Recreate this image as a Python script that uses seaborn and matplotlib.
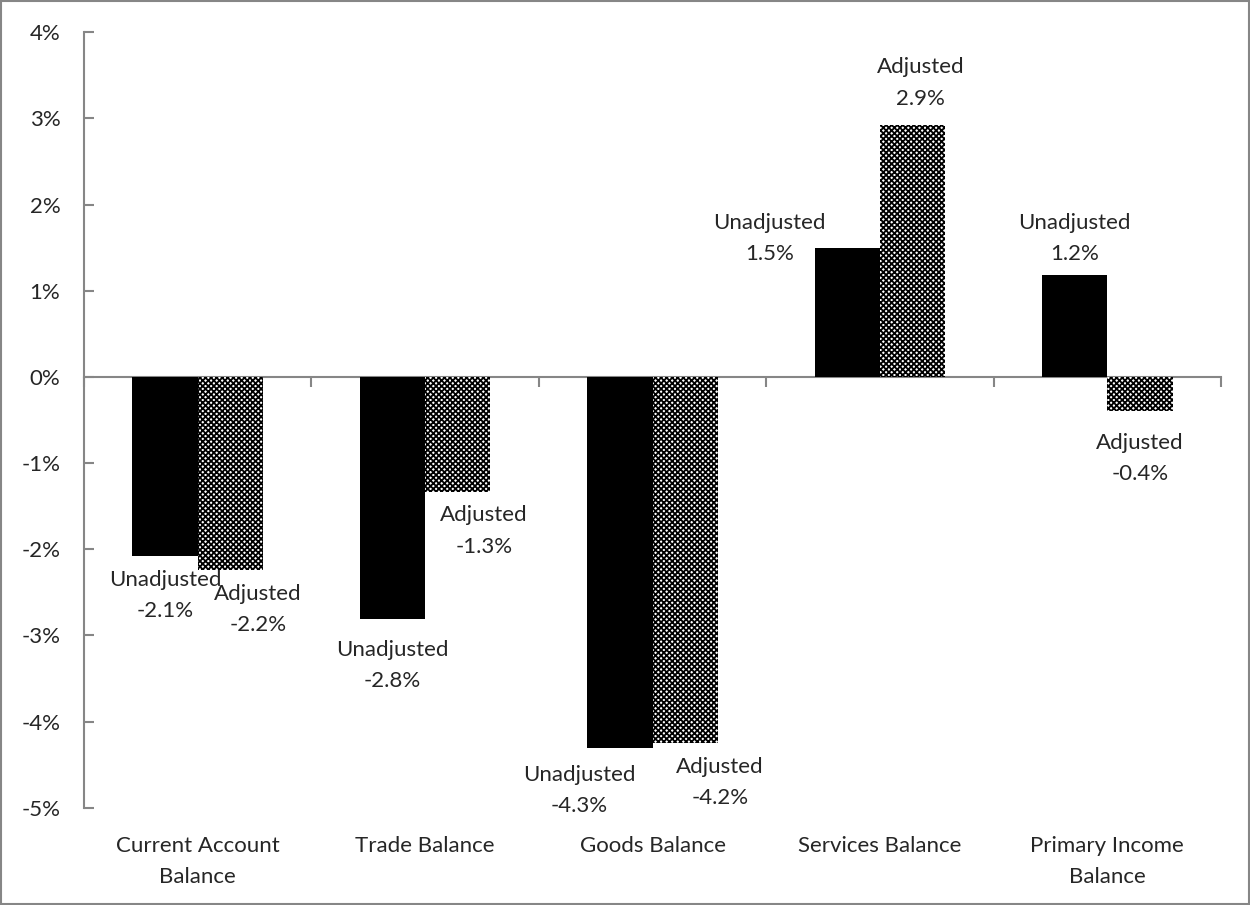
import matplotlib
matplotlib.use("Agg")
import matplotlib.pyplot as plt
import matplotlib.transforms as mtransforms
from matplotlib.patches import Rectangle
import seaborn as sns
import pandas as pd

categories = ["Current Account\nBalance", "Trade Balance", "Goods Balance",
              "Services Balance", "Primary Income\nBalance"]
unadjusted = [-2.08, -2.81, -4.31, 1.50, 1.18]
adjusted = [-2.24, -1.33, -4.25, 2.92, -0.39]
series_names = ["Unadjusted", "Adjusted"]
yticks = [4, 3, 2, 1, 0, -1, -2, -3, -4, -5]

df = pd.DataFrame({
    "Category": categories * 2,
    "Series": [series_names[0]] * len(categories) + [series_names[1]] * len(categories),
    "Value": unadjusted + adjusted,
})

sns.set_theme(style="white")
plt.rcParams['font.family'] = ['Lato', 'DejaVu Sans']
plt.rcParams['hatch.linewidth'] = 1.3
FS = 16
LS = 1.7

fig = plt.figure(figsize=(12.5, 9.05), dpi=100)
ax = fig.add_axes([0.0672, 1 - 807.7 / 905, 0.9096, (807.7 - 32.3) / 905])

sns.barplot(data=df, x="Category", y="Value", hue="Series", order=categories,
            hue_order=series_names, palette=["black", "white"], width=0.575,
            saturation=1, legend=False, ax=ax)

for p in ax.containers[0]:
    p.set_edgecolor("none")
    p.set_linewidth(0)
for p in ax.containers[1]:
    p.set_facecolor("#ffffff")
    p.set_edgecolor("black")
    p.set_hatch("xxxxxx")
    p.set_linewidth(0)

ax.set_ylim(-5, 4)
ax.set_xlim(-0.5, len(categories) - 0.5)
ax.set_yticks(yticks)
ax.set_yticklabels([f"{t}%" for t in yticks], fontsize=FS)
ax.set_xlabel("")
ax.set_ylabel("")

grey = "#868686"
for s in ["top", "right"]:
    ax.spines[s].set_visible(False)
ax.spines["left"].set_color(grey)
ax.spines["left"].set_linewidth(1.5)
ax.spines["bottom"].set_position(("data", 0))
ax.spines["bottom"].set_color(grey)
ax.spines["bottom"].set_linewidth(1.5)
ax.spines["bottom"].set_zorder(0.5)

ax.tick_params(axis="y", direction="in", length=7, width=1.5, color=grey, pad=17, left=True)
ax.set_xticks([i - 0.5 for i in range(len(categories) + 1)])
ax.set_xticklabels([])
ax.tick_params(axis="x", direction="out", length=7, width=1.5, color=grey, bottom=True)

trans = mtransforms.blended_transform_factory(ax.transData, ax.transAxes)
for i, c in enumerate(categories):
    ax.text(i, -0.036, c, transform=trans, ha="center", va="top", fontsize=FS,
            linespacing=LS)

# data labels: (dx, dy) offsets in points relative to bar end
bw = 0.2875
un_offsets = [(0, -10), (0, -15), (-29, -12), (-56, -12), (0, 8)]
ad_offsets = [(20, -10), (19, -10), (25, -10), (6, 12), (0, -16)]
for i in range(len(categories)):
    for vals, offs, name, xshift in [(unadjusted, un_offsets, "Unadjusted", -bw / 2),
                                     (adjusted, ad_offsets, "Adjusted", bw / 2)]:
        v = vals[i]
        dx, dy = offs[i]
        va = "bottom" if v > 0 else "top"
        ax.annotate(f"{name}\n{v:.1f}%", xy=(i + xshift, v), xytext=(dx, dy),
                    textcoords="offset points", ha="center", va=va, fontsize=FS,
                    linespacing=LS)

fig.patches.append(Rectangle((0.001, 0.001), 0.998, 0.998, transform=fig.transFigure,
                             fill=False, edgecolor=grey, linewidth=1.5))

fig.savefig("out.png", dpi=100)
